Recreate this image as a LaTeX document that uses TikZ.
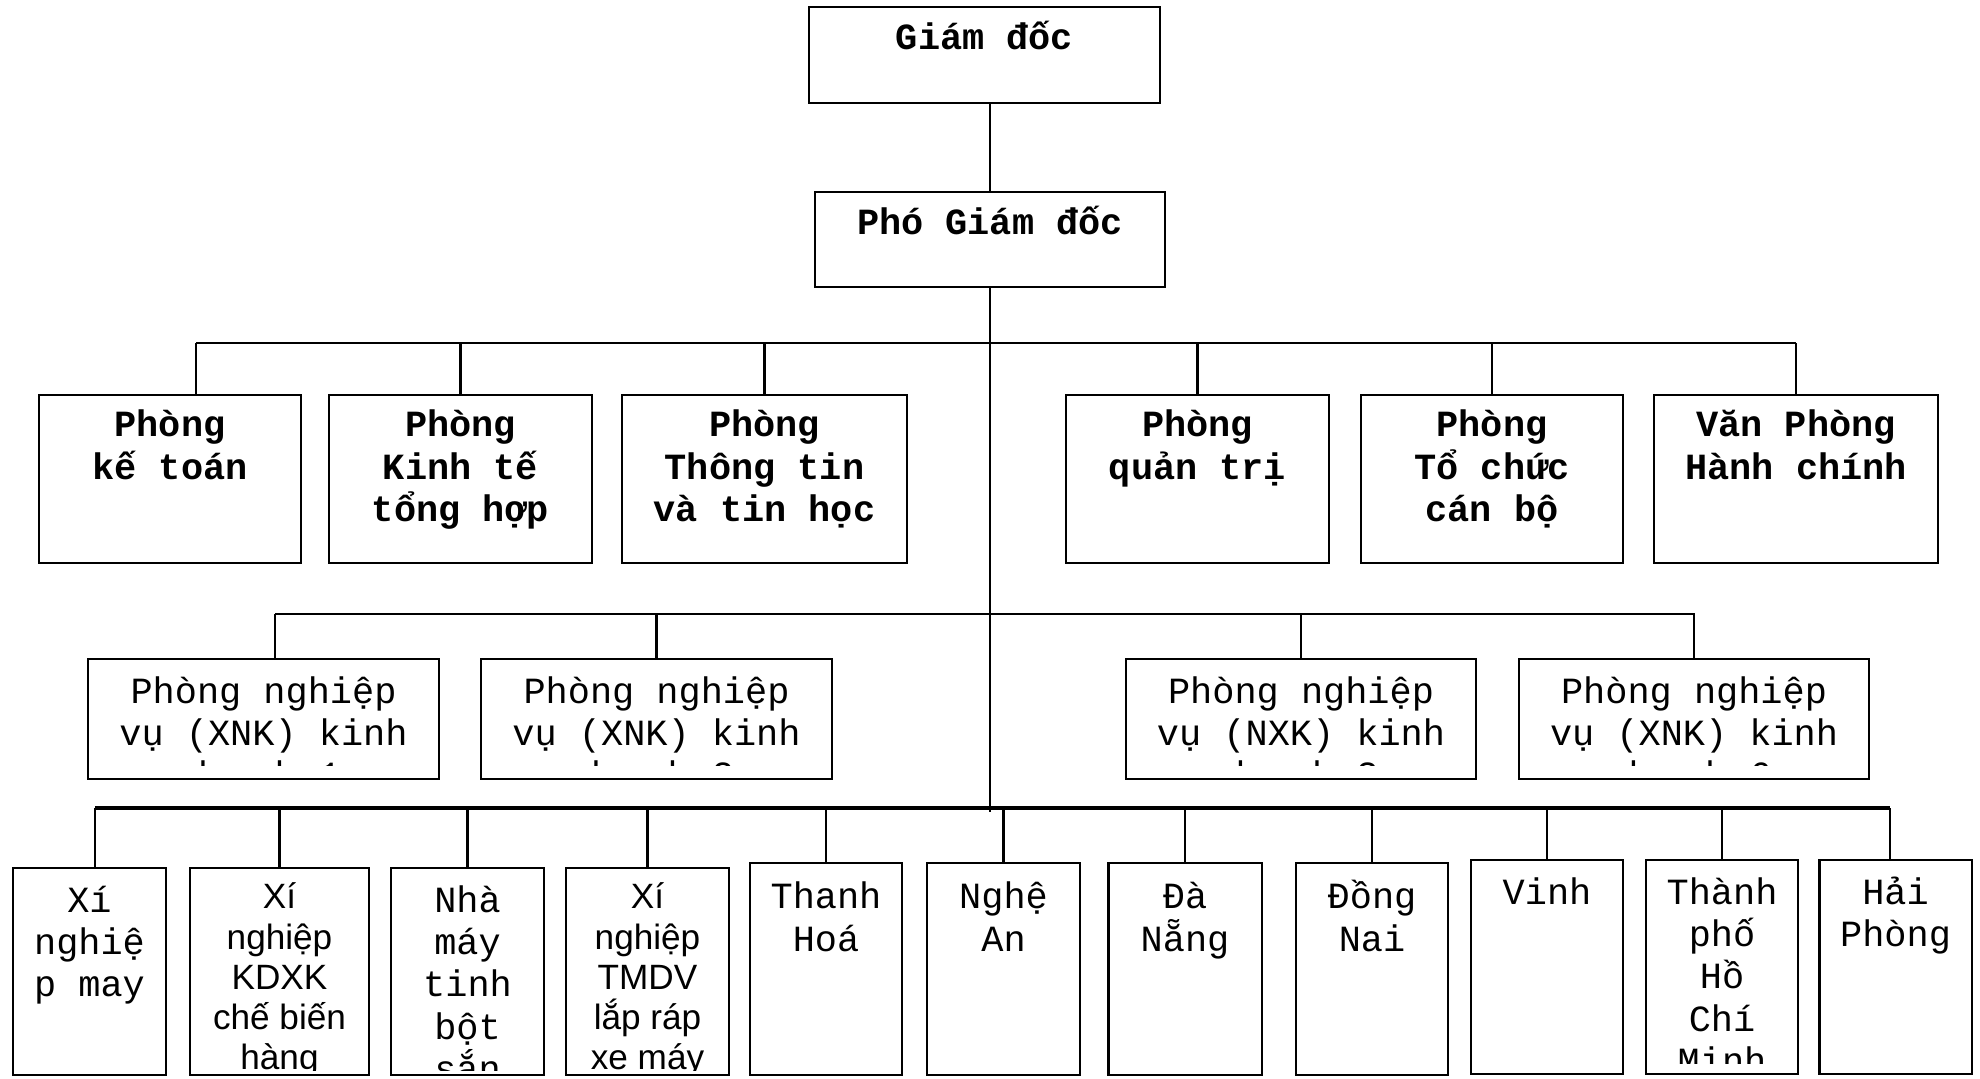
\documentclass[tikz,border=0pt]{standalone}
\usepackage{fontspec}
\setmonofont{Liberation Mono}
\setsansfont{Liberation Sans}
\newcommand{\fcour}{\ttfamily\fontsize{10.5}{12}\selectfont}
\newcommand{\fcourb}{\ttfamily\bfseries\fontsize{10.5}{12}\selectfont}
\newcommand{\farial}{\sffamily\fontsize{10}{11.4}\selectfont}
\tikzset{box/.style={draw,line width=0.6pt,inner sep=0pt,outer sep=0pt},
         boxfont/.store in=\boxfont, boxfont=\fcour,
         clipgap/.store in=\clipgap, clipgap=0.07cm,
         textdrop/.store in=\textdrop, textdrop=0.08cm,
         txt/.style={path picture={
           \clip ([yshift=\clipgap]path picture bounding box.south west) rectangle (path picture bounding box.north east);
           \node[anchor=north,align=center,inner sep=0pt,minimum width=0pt,minimum height=0pt,font=\boxfont]
               at ([yshift=\textdrop]path picture bounding box.north) {\rule{0pt}{0.5cm}#1};}},
         unit/.style={textdrop=0.055cm,clipgap=0.14cm},
         branch/.style={textdrop=0.055cm,clipgap=0.05cm},
         sans/.style={boxfont=\farial,textdrop=0.09cm},
         link/.style={line width=0.6pt},
         bus/.style={line width=1.1pt}}

\begin{document}
\begin{tikzpicture}[x=0.01cm,y=-0.01cm]
        \useasboundingbox (0,0) rectangle (1980,1078);

        \node[box,minimum width=3.51cm,minimum height=0.96cm,boxfont=\fcourb,txt={Giám đốc}](gd)at(984.5,55){};
        \node[box,minimum width=3.50cm,minimum height=0.95cm,boxfont=\fcourb,txt={Phó Giám đốc}](pgd)at(990,239.5){};

        \node[box,minimum width=2.62cm,minimum height=1.68cm,boxfont=\fcourb,txt={Phòng\\kế toán}](pkt)at(170,479){};
        \node[box,minimum width=2.63cm,minimum height=1.68cm,boxfont=\fcourb,txt={Phòng\\Kinh tế\\tổng hợp}](pktth)at(460.5,479){};
        \node[box,minimum width=2.85cm,minimum height=1.68cm,boxfont=\fcourb,txt={Phòng\\Thông tin\\và tin học}](pttth)at(764.5,479){};
        \node[box,minimum width=2.63cm,minimum height=1.68cm,boxfont=\fcourb,txt={Phòng\\quản trị}](pqt)at(1197.5,479){};
        \node[box,minimum width=2.62cm,minimum height=1.68cm,boxfont=\fcourb,txt={Phòng\\Tổ chức\\cán bộ}](ptccb)at(1492,479){};
        \node[box,minimum width=2.84cm,minimum height=1.68cm,boxfont=\fcourb,txt={Văn Phòng\\Hành chính}](vphc)at(1796,479){};

        \node[box,unit,minimum width=3.50cm,minimum height=1.20cm,txt={Phòng nghiệp\\vụ (XNK) kinh\\doanh 1}](nv1)at(263.5,719){};
        \node[box,unit,minimum width=3.51cm,minimum height=1.20cm,txt={Phòng nghiệp\\vụ (XNK) kinh\\doanh 2}](nv2)at(656.5,719){};
        \node[box,unit,minimum width=3.50cm,minimum height=1.20cm,txt={Phòng nghiệp\\vụ (NXK) kinh\\doanh 3}](nv3)at(1301,719){};
        \node[box,unit,minimum width=3.50cm,minimum height=1.20cm,txt={Phòng nghiệp\\vụ (XNK) kinh\\doanh 6}](nv4)at(1694,719){};

        \node[box,branch,minimum width=1.53cm,minimum height=2.07cm,txt={Xí\\nghiệ\\p may}](xnmay)at(89.5,971.5){};
        \node[box,branch,sans,minimum width=1.79cm,minimum height=2.07cm,txt={Xí\\nghiệp\\KDXK\\chế biến\\hàng}](xnkdxk)at(279.5,971.5){};
        \node[box,branch,minimum width=1.53cm,minimum height=2.07cm,txt={Nhà\\máy\\tinh\\bột\\sắn}](nmtbs)at(467.5,971.5){};
        \node[box,branch,sans,minimum width=1.63cm,minimum height=2.07cm,txt={Xí\\nghiệp\\TMDV\\lắp ráp\\xe máy}](xntmdv)at(647.5,971.5){};
        \node[box,branch,textdrop=0.04cm,minimum width=1.52cm,minimum height=2.12cm,txt={Thanh\\Hoá}](thoa)at(826,969){};
        \node[box,branch,textdrop=0.04cm,minimum width=1.53cm,minimum height=2.12cm,txt={Nghệ\\An}](nan)at(1003.5,969){};
        \node[box,branch,textdrop=0.04cm,minimum width=1.53cm,minimum height=2.12cm,txt={Đà\\Nẵng}](dnang)at(1185,969){};
        \node[box,branch,textdrop=0.04cm,minimum width=1.52cm,minimum height=2.12cm,txt={Đồng\\Nai}](dnai)at(1372,969){};
        \node[box,branch,minimum width=1.52cm,minimum height=2.14cm,txt={Vinh}](vinh)at(1547,967){};
        \node[box,branch,clipgap=0.11cm,minimum width=1.52cm,minimum height=2.14cm,txt={Thành\\phố\\Hồ\\Chí\\Minh}](hcm)at(1722,967){};
        \node[box,branch,minimum width=1.52cm,minimum height=2.14cm,txt={Hải\\Phòng}](hphong)at(1895.5,967){};

        \coordinate(b1w)at(196,343);
        \coordinate(b1e)at(1796,343);
        \coordinate(b2w)at(275,614);
        \coordinate(b2e)at(1695,614);
        \coordinate(b3w)at(95,808);
        \coordinate(b3e)at(1890,808);
        \coordinate(tail)at(990,812);

        \draw[link](pgd.north|-gd.south)--(pgd.north);
        \draw[link](pgd.south)--(tail);

        \draw[link](b1w)--(b1e);
        \draw[link](b1w)--(b1w|-pkt.north);
        \foreach \n in {pktth,pttth,pqt,ptccb,vphc}
            \draw[link](\n.north|-b1w)--(\n.north);

        \draw[link](b2w)--(b2e);
        \draw[link](b2w)--(b2w|-nv1.north);
        \foreach \n in {nv2,nv3,nv4}
            \draw[link](\n.north|-b2w)--(\n.north);

        \draw[bus](b3w)--(b3e);
        \draw[link](b3w)--(b3w|-xnmay.north);
        \draw[link](b3e)--(b3e|-hphong.north);
        \foreach \n in {xnkdxk,nmtbs,xntmdv,thoa,nan,dnang,dnai,vinh,hcm}
            \draw[link](\n.north|-b3w)--(\n.north);
    \end{tikzpicture}
\end{document}
